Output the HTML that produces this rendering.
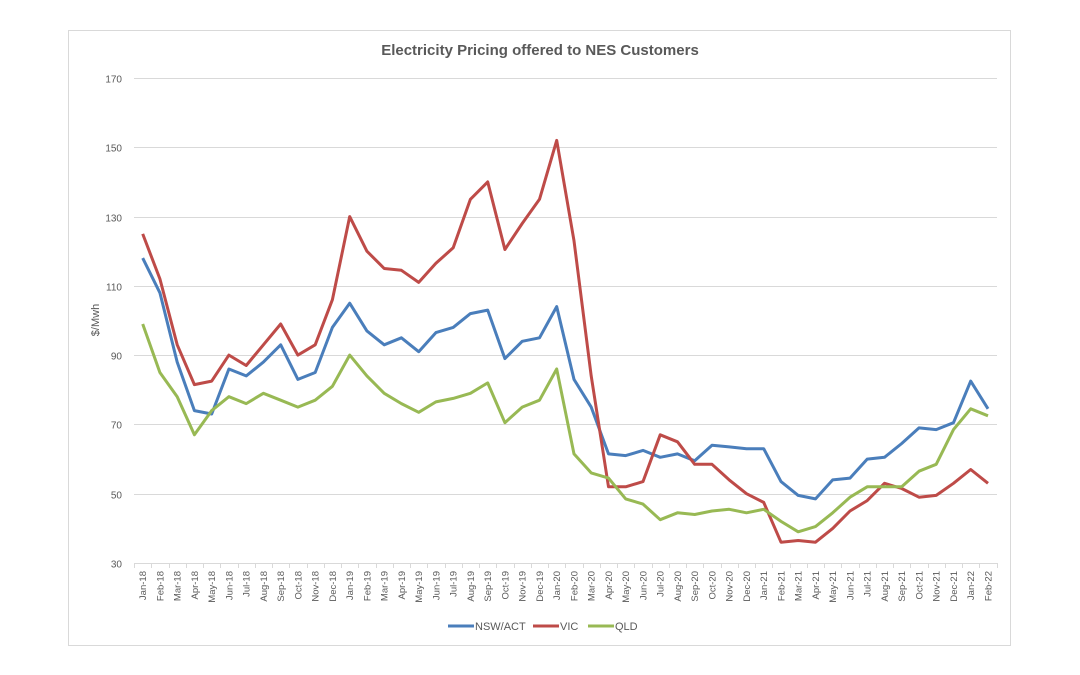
<!DOCTYPE html>
<html><head><meta charset="utf-8"><style>
html,body{margin:0;padding:0;background:#fff;}
svg{display:block;font-family:"Liberation Sans",sans-serif;}
</style></head><body>
<svg width="1080" height="675" viewBox="0 0 1080 675" xmlns="http://www.w3.org/2000/svg">
<rect x="0" y="0" width="1080" height="675" fill="#fff"/>
<rect x="68.5" y="30.5" width="942" height="615" fill="#fff" stroke="#d9d9d9" stroke-width="1"/>
<text x="540" y="55" text-anchor="middle" font-size="15" font-weight="bold" fill="#595959">Electricity Pricing  offered to NES Customers</text>
<g id="grid" stroke="#d9d9d9" stroke-width="1"></g>
<g id="ylab" font-size="10" fill="#595959" text-anchor="end"></g>
<text transform="translate(99,320) rotate(-90)" text-anchor="middle" font-size="11" fill="#595959">$/Mwh</text>
<g id="xlab" font-size="9.5" fill="#595959"></g>
<g id="series" fill="none" stroke-width="3" stroke-linejoin="round"></g>
<g font-size="11" fill="#595959">
<line x1="448" y1="626" x2="474" y2="626" stroke="#4a7ebb" stroke-width="3"/>
<text x="475" y="630">NSW/ACT</text>
<line x1="533" y1="626" x2="559" y2="626" stroke="#be4b48" stroke-width="3"/>
<text x="560" y="630">VIC</text>
<line x1="588" y1="626" x2="614" y2="626" stroke="#98b954" stroke-width="3"/>
<text x="615" y="630">QLD</text>
</g>
</svg>
<script>
var ns="http://www.w3.org/2000/svg";
function Y(v){return 563-(v-30)*485/140;}
function X(i){return 142.7+i*17.25;}
var g=document.getElementById('grid'),yl=document.getElementById('ylab'),xl=document.getElementById('xlab'),s=document.getElementById('series');
for(var v=30;v<=170;v+=20){var l=document.createElementNS(ns,'line');var y=Math.round(Y(v))+0.5;l.setAttribute('x1',134);l.setAttribute('x2',997);l.setAttribute('y1',y);l.setAttribute('y2',y);g.appendChild(l);
var t=document.createElementNS(ns,'text');t.setAttribute('x',122);t.setAttribute('y',y+4);t.textContent=v;yl.appendChild(t);}
for(var i=0;i<=50;i++){var x=Math.round(134+i*17.25)+0.5;var l=document.createElementNS(ns,'line');l.setAttribute('x1',x);l.setAttribute('x2',x);l.setAttribute('y1',563);l.setAttribute('y2',568);g.appendChild(l);}
var m=['Jan','Feb','Mar','Apr','May','Jun','Jul','Aug','Sep','Oct','Nov','Dec'];
for(var i=0;i<50;i++){var t=document.createElementNS(ns,'text');var lab=m[i%12]+'-'+(18+Math.floor(i/12));t.setAttribute('transform','translate('+(X(i)+3.5)+',571) rotate(-90)');t.setAttribute('text-anchor','end');t.textContent=lab;xl.appendChild(t);}
var D={
'#4a7ebb':[118,108,88,74,73,86,84,88,93,83,85,98,105,97,93,95,91,96.5,98,102,103,89,94,95,104,83,75,61.5,61,62.5,60.5,61.5,59.5,64,63.5,63,63,53.5,49.5,48.5,54,54.5,60,60.5,64.5,69,68.5,70.5,82.5,74.5],
'#be4b48':[125,112,93,81.5,82.5,90,87,93,99,90,93,106,130,120,115,114.5,111,116.5,121,135,140,120.5,128,135,152,123,84,52,52,53.5,67,65,58.5,58.5,54,50,47.5,36,36.5,36,40,45,48,53,51.5,49,49.5,53,57,53],
'#98b954':[99,85,78,67,74,78,76,79,77,75,77,81,90,84,79,76,73.5,76.5,77.5,79,82,70.5,75,77,86,61.5,56,54.5,48.5,47,42.5,44.5,44,45,45.5,44.5,45.5,42,39,40.5,44.5,49,52,52,52,56.5,58.5,68.5,74.5,72.5]};
for(var c in D){var p=D[c].map(function(v,i){return X(i).toFixed(1)+','+Y(v).toFixed(1);}).join(' ');var pl=document.createElementNS(ns,'polyline');pl.setAttribute('points',p);pl.setAttribute('stroke',c);s.appendChild(pl);}
</script>
</body></html>
